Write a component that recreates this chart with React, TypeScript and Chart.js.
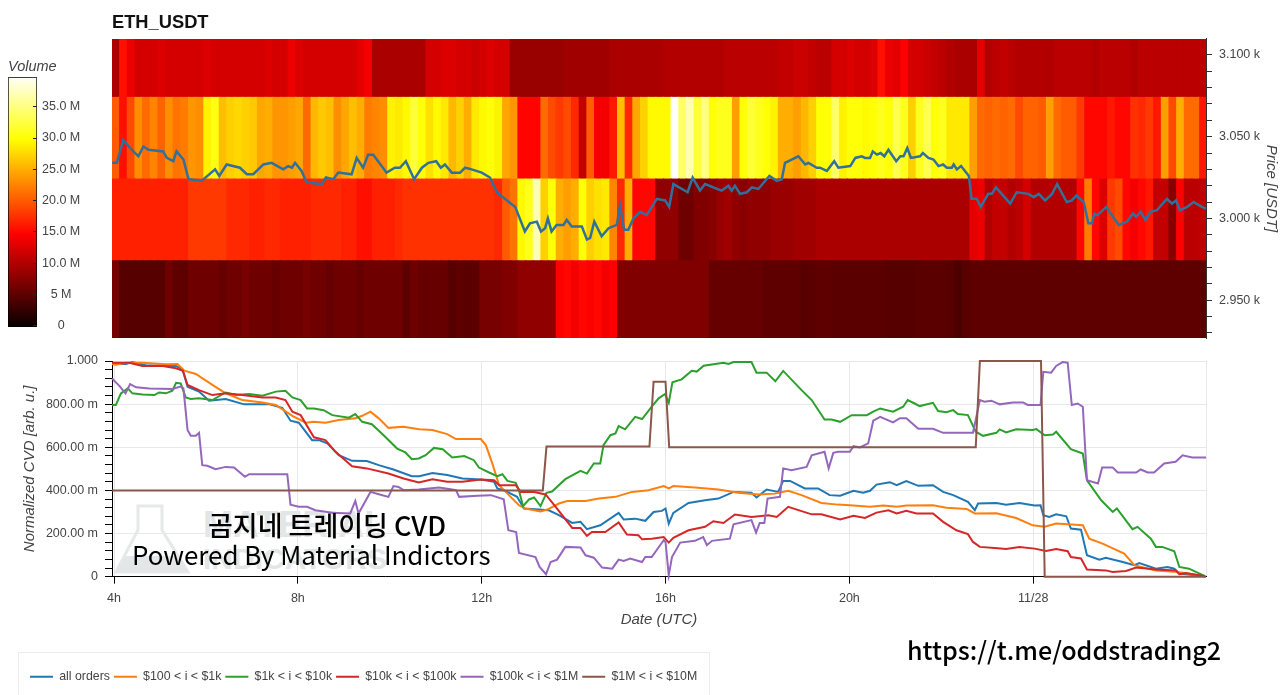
import { useEffect, useRef } from "react";
import Chart from "chart.js/auto";

// time axis is in hours since 11/27 00:00 UTC, 24 = 11/28
const xMin = 3.956;
const xMax = 27.76;
const timeTicks = [4, 8, 12, 16, 20, 24];
const timeTickLabels = ["4h", "8h", "12h", "16h", "20h", "11/28"];

const priceTicks = [2930, 2940, 2950, 2960, 2970, 2980, 2990, 3000, 3010, 3020, 3030, 3040, 3050, 3060, 3070, 3080, 3090, 3100];
const volumeTicks = [0, 5, 10, 15, 20, 25, 30, 35];
const cvdTicks = [0, 40, 80, 120, 160, 200, 240, 280, 320, 360, 400, 440, 480, 520, 560, 600, 640, 680, 720, 760, 800, 840, 880, 920, 960, 1000];

// volume heatmap: 10 minute bins, price rows from bottom to top
const firstBinHour = 4.04;
const binStep = 1 / 6;
const priceEdges = [2924, 2974, 3024, 3074, 3124];

const volumeRow4 = [
  9.5, 15.5, 13.5, 12, 12, 12, 12.5, 12, 12, 12,
  12, 12, 12.5, 12, 12, 12, 12, 12, 12, 12,
  12.5, 12, 12, 13.5, 12.5, 12, 12, 12, 12, 12,
  12, 12, 13, 14, 9.5, 9.5, 9.5, 9.5, 9.5, 9.5,
  9.5, 12, 12, 12.5, 12.5, 12, 12, 11.5, 12, 12.5,
  12, 12, 8.5, 8.5, 8.5, 8.5, 8.5, 8.5, 8.5, 9,
  9, 9, 9, 9, 9, 9.5, 9.5, 9.5, 9.5, 9.5,
  9.5, 9.5, 10, 10, 10, 10, 10, 10, 10, 10,
  10.5, 10.5, 10.5, 10.5, 10.5, 10.5, 10.5, 11, 11, 11.5,
  11.5, 11, 10.5, 10.5, 12, 12, 12.5, 12, 12, 12.5,
  15.5, 13.5, 13, 14.5, 12, 12, 11.5, 11, 10.5, 10,
  9.5, 9.5, 9.5, 13, 10, 10.5, 11, 10.5, 10, 10,
  10, 10, 10, 10.5, 10.5, 10.5, 10.5, 10.5, 10, 10.5,
  10.5, 10.5, 10.5, 10, 10.5, 10.5, 10.5, 10.5, 10.5, 10.5, 10.5, 10.5, 10.5,
];
const volumeRow3 = [
  20, 15.5, 19, 23, 21, 22.5, 20.5, 23, 21.5, 22,
  23.5, 23, 29, 30.5, 26, 27, 27.5, 27, 26.5, 24.5,
  25, 23.5, 23.5, 24, 24.5, 21, 25.5, 26.5, 26, 23,
  24.5, 26, 25, 22, 22.5, 23, 29, 28.5, 29.5, 32,
  30, 28, 29.5, 28.5, 25.5, 27, 25, 28.5, 29.5, 30,
  29, 24.5, 23.5, 14.8, 14.8, 14.8, 21, 19, 18, 19,
  17, 11, 20, 14, 14, 16, 26, 17, 24.5, 27,
  29.5, 29.5, 29.5, 40, 34, 37, 32, 35, 30, 31,
  31, 24, 30, 32, 31, 30, 29, 25, 25, 24,
  25.5, 27, 30, 30, 34, 29, 30, 30, 29.5, 30,
  31, 30, 33, 31, 27, 31, 33, 30, 31, 28.5,
  28.5, 28.5, 24, 21, 20.5, 21, 20.5, 21, 19, 20.5,
  20.5, 20, 24, 21, 20, 20, 18, 15, 15, 15,
  16, 15, 15, 17.5, 17, 18, 16, 24, 19, 25, 21, 21, 16,
];
const volumeRow2 = [
  16.5, 16.5, 16.5, 16.5, 16.5, 16.5, 16.5, 16.5, 16.5, 16.5,
  18, 18, 18, 18, 18, 17, 17, 17, 16.5, 16.5,
  17, 17, 16.5, 16.5, 16.5, 16.5, 17, 17, 17, 17,
  16.5, 16.5, 15.5, 15.5, 16.5, 16.5, 16.5, 17, 17.5, 17.5,
  17.5, 17.5, 17.5, 17.5, 17.5, 17.5, 17.5, 17.5, 17.5, 17.5,
  17, 20, 21.5, 29.5, 31, 37, 27, 30, 25, 24,
  25, 30, 27, 28, 28.5, 22.5, 17, 25, 15, 15,
  15, 8, 8, 8, 6, 6, 7, 7, 7.5, 8.5,
  9, 8, 7.5, 8, 8, 8, 8.5, 8.5, 8.5, 9,
  9, 9, 9.5, 9.5, 9.5, 9.5, 9.5, 9.5, 9.5, 9.5,
  9.5, 9.5, 9.5, 9.5, 9.5, 9.5, 9.5, 9.5, 9.5, 9.5,
  9.5, 9.5, 13, 13.5, 10, 11, 11, 10, 10.5, 12,
  10, 10, 10, 10, 10, 10, 15, 22, 15, 12.5,
  18, 19, 15, 14, 15, 16, 11, 11, 7.5, 14.5, 10.5, 10.5, 11,
];
const volumeRow1 = [
  6.5, 4.5, 4.5, 4.5, 4.5, 4.5, 4.5, 6, 5, 5,
  6, 6, 6, 6, 5.5, 6, 6, 6.5, 6, 6,
  6, 5.5, 6, 6, 6, 6.5, 6, 6, 5.5, 6,
  6, 6, 5.5, 6, 6, 6, 6, 6, 5, 6,
  5.5, 5.5, 5.5, 5.5, 4.5, 5, 4.8, 5, 6.5, 6.5,
  6.5, 7, 7, 8, 8, 8, 8, 8, 14.5, 15,
  14, 15, 14.5, 15, 14, 14.5, 7, 7, 7, 7,
  7, 7, 7, 7, 7, 7, 7, 7, 5.5, 5.5,
  5.5, 5.5, 5.5, 5.5, 5.5, 5, 5, 5, 5, 5,
  4.5, 4.8, 5, 5, 4.8, 4.8, 4.8, 4.8, 4.8, 4.8,
  4.8, 4.5, 4.5, 4.5, 4.5, 4.8, 4.8, 4.8, 4.8, 4.5,
  4, 4.5, 5, 5, 5, 5, 5, 5, 5, 5,
  5, 5, 5, 5, 5, 5, 5, 5, 5, 5,
  5, 5, 5, 5, 5, 5, 5, 5, 5, 5, 5, 5, 5,
];
const volumeRows = [volumeRow1, volumeRow2, volumeRow3, volumeRow4];

const priceHours = [
  3.96, 4.06, 4.2, 4.35, 4.53, 4.64, 4.75, 5.07, 5.15, 5.29, 5.36, 5.51, 5.62, 5.91, 6.2, 6.29, 6.45, 6.74, 6.89, 7.03,
  7.25, 7.43, 7.68, 7.79, 7.87, 7.94, 8.08, 8.19, 8.52, 8.61, 8.77, 8.88, 9.17, 9.28, 9.42, 9.53, 9.64, 9.93, 10.11, 10.22,
  10.35, 10.53, 10.7, 10.84, 11.01, 11.11, 11.2, 11.35, 11.53, 11.64, 11.78, 12, 12.18, 12.33, 12.55, 12.73, 12.94, 13.05, 13.2, 13.29,
  13.38, 13.44, 13.52, 13.63, 13.78, 13.85, 13.96, 14.18, 14.29, 14.36, 14.45, 14.61, 14.76, 14.94, 15.01, 15.1, 15.19, 15.3, 15.45, 15.59,
  15.81, 15.99, 16.08, 16.17, 16.48, 16.59, 16.75, 16.86, 17.22, 17.37, 17.44, 17.51, 17.62, 17.77, 17.88, 18.02, 18.26, 18.42, 18.53, 18.6,
  18.89, 19.04, 19.11, 19.29, 19.36, 19.51, 19.67, 19.76, 20.02, 20.13, 20.27, 20.34, 20.45, 20.51, 20.6, 20.68, 20.76, 20.85, 21.02, 21.11,
  21.18, 21.26, 21.34, 21.54, 21.6, 21.72, 21.83, 21.94, 22.04, 22.12, 22.23, 22.27, 22.34, 22.43, 22.6, 22.66, 22.77, 22.86, 23.02, 23.1,
  23.19, 23.5, 23.64, 23.9, 24.01, 24.12, 24.26, 24.41, 24.52, 24.73, 24.84, 24.94, 25.1, 25.2, 25.28, 25.33, 25.4, 25.59, 25.86, 26.04,
  26.17, 26.24, 26.34, 26.44, 26.55, 26.69, 26.91, 27.02, 27.11, 27.19, 27.35, 27.49, 27.67, 27.76,
];
const priceValues = [
  3034, 3034, 3048, 3043, 3038, 3044, 3042, 3041, 3037, 3035, 3041, 3036, 3024, 3023, 3030, 3026, 3033, 3031, 3027, 3027,
  3033, 3034, 3030, 3032, 3031, 3034, 3029, 3022, 3021, 3025, 3024, 3028, 3027, 3037, 3031, 3039, 3039, 3028, 3031, 3031,
  3035, 3024, 3031, 3034, 3035, 3031, 3033, 3028, 3028, 3031, 3030, 3028, 3025, 3016, 3011, 3007, 2992, 2997, 2998, 2992,
  2994, 3000, 2992, 2996, 2996, 2999, 2995, 2995, 2987, 2988, 2998, 2989, 2994, 2996, 3008, 2993, 2993, 3000, 3004, 3002,
  3012, 3011, 3007, 3021, 3016, 3025, 3017, 3021, 3017, 3020, 3017, 3020, 3015, 3016, 3019, 3018, 3026, 3023, 3024, 3034,
  3038, 3033, 3034, 3031, 3031, 3029, 3035, 3031, 3032, 3037, 3038, 3037, 3037, 3041, 3039, 3040, 3038, 3042, 3035, 3038,
  3038, 3043, 3037, 3038, 3040, 3037, 3036, 3032, 3033, 3031, 3031, 3033, 3030, 3032, 3026, 3012, 3012, 3007, 3015, 3015,
  3019, 3009, 3016, 3015, 3013, 3015, 3011, 3015, 3021, 3010, 3011, 3014, 3010, 2997, 2997, 3003, 3002, 3007, 2996, 2998,
  3003, 3001, 3004, 2999, 3004, 3005, 3012, 3009, 3011, 3005, 3007, 3010, 3007, 3006,
];

const allOrdersHours = [
  3.96, 4.26, 4.4, 4.69, 5.35, 5.49, 5.6, 5.85, 6.07, 6.43, 6.83, 7.37, 7.66, 7.84, 8.02, 8.31, 8.46, 8.64, 8.89, 9.18, 9.5, 9.76, 10.08, 10.48, 10.64,
  10.93, 11.25, 11.58, 11.98, 12.27, 12.34, 12.48, 12.77, 12.92, 13.24, 13.46, 13.68, 13.97, 14.15, 14.29, 14.58, 14.98, 15.09, 15.34, 15.56, 15.74, 15.92, 16, 16.07, 16.17,
  16.5, 16.86, 17.15, 17.48, 17.87, 17.98, 18.2, 18.45, 18.56, 18.71, 19.03, 19.32, 19.57, 19.8, 20.09, 20.3, 20.45, 20.59, 20.88, 21.03, 21.24, 21.5, 21.82, 22.04, 22.26,
  22.58, 22.73, 22.8, 23.2, 23.41, 23.7, 24.03, 24.16, 24.22, 24.35, 24.5, 24.72, 24.82, 25.04, 25.17, 25.44, 25.58, 25.95, 26.2, 26.31, 26.67, 26.92, 27.07, 27.18, 27.74,
];
const allOrdersValues = [
  986, 986, 995, 980, 977, 961, 881, 858, 816, 824, 799, 800, 783, 723, 714, 633, 633, 618, 563, 537, 536, 517, 497, 466, 466,
  481, 471, 455, 450, 440, 409, 401, 370, 316, 311, 308, 285, 249, 254, 220, 238, 296, 265, 269, 259, 300, 305, 316, 246, 296,
  342, 354, 362, 393, 389, 367, 404, 393, 444, 444, 409, 409, 378, 375, 398, 389, 398, 427, 438, 424, 443, 421, 424, 393, 378,
  347, 308, 339, 342, 334, 342, 330, 331, 285, 277, 289, 280, 223, 218, 99, 79, 88, 68, 53, 63, 37, 45, 37, 14, 2,
];

const smallHours = [
  3.96, 4.04, 4.26, 4.62, 5.13, 5.38, 5.53, 5.78, 6.14, 6.43, 6.79, 7.23, 7.52, 7.88, 8.17, 8.35, 8.6, 8.89, 9.25, 9.4, 9.58, 9.76, 9.97, 10.3, 10.64,
  10.93, 11.25, 11.44, 11.98, 12.09, 12.23, 12.38, 12.56, 12.81, 12.95, 13.28, 13.43, 13.68, 13.86, 14.26, 14.55, 14.91, 15.27, 15.63, 15.96, 16.07, 16.17, 16.64, 17.15, 17.58,
  18.02, 18.38, 18.67, 18.96, 19.39, 19.75, 20.01, 20.45, 20.74, 21.03, 21.24, 21.82, 22.11, 22.55, 22.73, 23.2, 23.63, 23.99, 24.25, 24.5, 25.08, 25.22, 25.51, 25.98, 26.2,
  26.67, 27.14, 27.46, 27.74,
];
const smallValues = [
  986, 983, 992, 992, 985, 986, 955, 940, 889, 850, 819, 808, 796, 746, 714, 718, 714, 726, 734, 746, 765, 734, 690, 695, 683,
  680, 661, 638, 638, 610, 525, 424, 385, 331, 316, 302, 311, 339, 351, 351, 362, 370, 393, 401, 420, 409, 420, 413, 404, 389,
  381, 385, 398, 378, 342, 334, 331, 324, 330, 324, 330, 331, 320, 314, 293, 294, 272, 238, 231, 246, 238, 176, 153, 107, 53,
  29, 22, 11, 2,
];

const midHours = [
  3.96, 4.04, 4.15, 4.3, 4.4, 4.62, 4.88, 4.98, 5.13, 5.27, 5.35, 5.45, 5.56, 5.67, 5.85, 6.14, 6.43, 6.65, 6.94, 7.23, 7.52, 7.73, 7.88, 8.06, 8.2,
  8.35, 8.56, 8.75, 9.11, 9.25, 9.4, 9.61, 9.9, 10.16, 10.34, 10.48, 10.63, 10.78, 10.96, 11.15, 11.36, 11.62, 11.83, 11.94, 12.16, 12.34, 12.45, 12.56, 12.74, 12.81,
  12.9, 13.03, 13.14, 13.28, 13.41, 13.53, 13.82, 14.15, 14.29, 14.44, 14.58, 14.65, 14.8, 14.91, 14.98, 15.12, 15.34, 15.49, 15.7, 15.85, 15.99, 16.07, 16.15, 16.35, 16.57,
  16.68, 16.83, 17.08, 17.26, 17.37, 17.48, 17.87, 17.98, 18.2, 18.39, 18.56, 18.96, 19.18, 19.46, 19.61, 19.8, 20.05, 20.38, 20.52, 20.67, 20.95, 21.17, 21.27, 21.42, 21.53,
  21.82, 21.93, 22.11, 22.26, 22.36, 22.58, 22.75, 22.91, 23.2, 23.27, 23.41, 23.63, 23.99, 24.07, 24.25, 24.43, 24.5, 24.82, 25.08, 25.17, 25.48, 25.73, 25.82, 26.16, 26.27,
  26.56, 26.67, 26.81, 27.07, 27.18, 27.39, 27.74,
];
const midValues = [
  796, 796, 850, 873, 850, 845, 842, 854, 850, 862, 899, 896, 831, 824, 827, 819, 854, 842, 847, 839, 858, 862, 831, 819, 780,
  780, 772, 749, 737, 754, 718, 707, 649, 594, 576, 545, 548, 563, 597, 591, 553, 559, 540, 506, 483, 466, 475, 444, 435, 401,
  327, 358, 367, 327, 389, 395, 452, 491, 478, 525, 525, 610, 656, 664, 698, 683, 741, 731, 788, 827, 847, 806, 901, 915, 955,
  951, 978, 986, 992, 986, 995, 995, 946, 946, 906, 954, 865, 819, 729, 729, 718, 749, 749, 765, 780, 765, 788, 819, 803, 791,
  806, 768, 762, 772, 754, 749, 672, 653, 667, 683, 669, 683, 680, 684, 656, 659, 672, 591, 571, 447, 354, 300, 316, 220, 231,
  176, 138, 138, 118, 45, 37, 2,
];

const largeHours = [
  3.96, 4.33, 4.62, 5.06, 5.35, 5.5, 5.6, 5.85, 6.14, 6.43, 6.79, 7.23, 7.52, 7.73, 7.88, 8.06, 8.35, 8.6, 8.82, 9.18, 9.5, 9.97, 10.3, 10.63,
  10.93, 11.25, 11.58, 11.98, 12.27, 12.38, 12.74, 12.85, 13.14, 13.39, 13.61, 13.97, 14.15, 14.29, 14.4, 14.69, 14.98, 15.16, 15.41, 15.49, 15.7, 15.96, 16.07, 16.17, 16.5, 16.86,
  17.04, 17.26, 17.51, 17.87, 18.24, 18.42, 18.67, 19.18, 19.39, 19.8, 20.09, 20.34, 20.59, 20.85, 21.03, 21.24, 21.46, 21.82, 22.04, 22.33, 22.58, 22.69, 22.84, 23.16, 23.41,
  23.7, 24.03, 24.28, 24.5, 24.75, 24.82, 25.04, 25.17, 25.58, 25.73, 26.02, 26.24, 26.67, 27.1, 27.18, 27.32, 27.74,
];
const largeValues = [
  992, 992, 977, 977, 966, 955, 889, 865, 842, 850, 842, 831, 831, 819, 765, 749, 646, 633, 579, 512, 502, 478, 455, 437,
  452, 440, 440, 450, 447, 424, 424, 393, 393, 381, 324, 226, 226, 189, 207, 207, 251, 195, 192, 173, 176, 184, 158, 180, 215, 231,
  257, 249, 288, 277, 285, 277, 324, 289, 289, 265, 282, 272, 297, 308, 293, 305, 293, 293, 254, 215, 197, 161, 138, 133, 128,
  138, 130, 119, 128, 118, 91, 84, 33, 29, 22, 26, 42, 33, 29, 11, 17, 2,
];

const whaleHours = [
  3.96, 4.04, 4.13, 4.25, 4.35, 4.48, 4.77, 5.27, 5.45, 5.51, 5.55, 5.6, 5.67, 5.78, 5.85, 5.92, 6.03, 6.21, 6.43, 6.61, 6.85, 6.94, 7.3, 7.77, 7.84,
  8.02, 8.2, 8.38, 8.75, 9.14, 9.25, 9.32, 9.58, 9.76, 9.97, 10.08, 10.19, 10.3, 10.63, 11.07, 11.29, 11.44, 11.51, 11.91, 12.2, 12.48, 12.58, 12.75, 12.81, 13.17,
  13.26, 13.4, 13.5, 13.64, 13.82, 14.15, 14.26, 14.44, 14.62, 14.84, 14.98, 15.09, 15.23, 15.49, 15.56, 15.7, 15.96, 16, 16.07, 16.14, 16.32, 16.64, 16.82, 16.9, 17.01,
  17.4, 17.48, 17.87, 17.97, 18.05, 18.15, 18.22, 18.49, 18.56, 18.74, 19.07, 19.18, 19.46, 19.55, 19.65, 19.75, 20.01, 20.09, 20.23, 20.41, 20.52, 20.67, 20.95, 21.1, 21.24,
  21.5, 21.82, 22.04, 22.69, 22.84, 22.94, 23.09, 23.27, 23.56, 23.78, 23.88, 24.16, 24.22, 24.39, 24.5, 24.64, 24.75, 24.84, 24.97, 25.08, 25.17, 25.41, 25.5, 25.73, 25.84,
  26.24, 26.34, 26.49, 26.63, 26.85, 27.1, 27.25, 27.46, 27.76,
];
const whaleValues = [
  919, 901, 881, 850, 893, 878, 873, 870, 881, 873, 788, 680, 653, 653, 667, 517, 514, 498, 509, 506, 463, 475, 475, 475, 334,
  324, 324, 308, 296, 293, 351, 293, 393, 382, 370, 420, 416, 401, 404, 413, 406, 401, 370, 375, 378, 359, 215, 207, 110, 91,
  45, 11, 68, 79, 138, 135, 99, 88, 42, 37, 79, 73, 84, 68, 91, 91, 169, 161, 6, 91, 158, 166, 184, 146, 166,
  176, 243, 262, 204, 249, 249, 362, 370, 502, 494, 509, 563, 579, 502, 574, 579, 579, 605, 599, 618, 723, 741, 715, 735, 735,
  686, 686, 667, 667, 819, 811, 816, 799, 808, 808, 796, 796, 950, 946, 977, 995, 992, 796, 803, 788, 447, 432, 506, 506, 483,
  483, 497, 483, 483, 525, 533, 563, 553, 553,
];

const hugeHours = [3.96, 13.33, 13.41, 15.65, 15.74, 16, 16.08, 22.75, 22.84, 24.17, 24.25, 27.76];
const hugeValues = [400, 400, 603, 603, 904, 904, 600, 600, 1000, 1000, 0, 0];

const cvdLabels = ["all orders", "$100 < i < $1k", "$1k < i < $10k", "$10k < i < $100k", "$100k < i < $1M", "$1M < i < $10M"];
const cvdColors = ["#1f77b4", "#ff7f0e", "#2ca02c", "#d62728", "#9467bd", "#8c564b"];
const cvdHours = [allOrdersHours, smallHours, midHours, largeHours, whaleHours, hugeHours];
const cvdValues = [allOrdersValues, smallValues, midValues, largeValues, whaleValues, hugeValues];

const FONT = "'Liberation Sans', Arial, sans-serif";
const TEXT = "#444";

const zip = (xs: number[], ys: number[]) => xs.map((x, i) => ({ x, y: ys[i] }));
const clamp01 = (v: number) => Math.max(0, Math.min(1, v));

// "hot" colormap over 0..40 M
function volumeColor(v: number) {
  const r = Math.round(255 * clamp01(0.04 + v / 15.2));
  const g = Math.round(255 * clamp01((v - 14.6) / 15.2));
  const b = Math.round(255 * clamp01((v - 29.8) / 10.2));
  return `rgb(${r},${g},${b})`;
}

// fixed axis size, and no extra room for labels that hang over the plot edge
const fixWidth = (width: number) => (s: any) => {
  s.width = width;
  s.paddingTop = 0;
  s.paddingBottom = 0;
};

export default function App() {
  const barRef = useRef<HTMLCanvasElement>(null);
  const heatRef = useRef<HTMLCanvasElement>(null);
  const cvdRef = useRef<HTMLCanvasElement>(null);

  useEffect(() => {
    const charts: Chart[] = [];

    // colorbar
    charts.push(
      new Chart(barRef.current!, {
        type: "bar",
        data: {
          labels: ["Volume"],
          datasets: [
            {
              data: [[-0.2, 39.7]],
              barPercentage: 1,
              categoryPercentage: 1,
              borderWidth: 1,
              borderColor: "#000",
              borderSkipped: false,
              backgroundColor: (c: any) => {
                const y = c.chart.scales.y;
                const y0 = y ? y.getPixelForValue(0) : NaN;
                const y1 = y ? y.getPixelForValue(40) : NaN;
                if (!Number.isFinite(y0) || !Number.isFinite(y1)) return "#000";
                const g = c.chart.ctx.createLinearGradient(0, y0, 0, y1);
                g.addColorStop(0, "#0a0000");
                g.addColorStop(0.365, "#ff0000");
                g.addColorStop(0.746, "#ffff00");
                g.addColorStop(1, "#ffffff");
                return g;
              },
            } as any,
          ],
        },
        options: {
          responsive: false,
          animation: false,
          layout: { padding: { left: 8, bottom: 8 } },
          plugins: {
            legend: { display: false },
            tooltip: { enabled: false },
            title: {
              display: true,
              text: "Volume",
              align: "start",
              color: TEXT,
              padding: { top: 0, bottom: 1.9 },
              font: { family: FONT, size: 14.5, style: "italic", weight: "normal" },
            },
          },
          scales: {
            x: { display: false },
            y: {
              position: "right",
              min: -0.2,
              max: 39.7,
              afterBuildTicks: (s: any) => {
                s.ticks = volumeTicks.map((value) => ({ value }));
              },
              afterFit: fixWidth(73),
              border: { display: false },
              grid: { drawOnChartArea: false, tickLength: -4, tickColor: "#222", z: 1 },
              ticks: {
                padding: 9,
                crossAlign: "center",
                color: TEXT,
                autoSkip: false,
                font: { family: FONT, size: 12.5 },
                callback: (v: any) => (v === 0 ? "0" : v === 5 ? "5 M" : `${Number(v).toFixed(1)} M`),
              },
            },
          },
        },
      })
    );

    // price + volume heatmap
    const binHours = volumeRow1.map((_, i) => firstBinHour + i * binStep);
    charts.push(
      new Chart(heatRef.current!, {
        type: "bar",
        data: {
          datasets: [
            {
              type: "line",
              label: "Price",
              data: zip(priceHours, priceValues),
              borderColor: "#31709a",
              borderWidth: 2.5,
              pointRadius: 0,
              tension: 0,
              order: 0,
            } as any,
            ...volumeRows.map((row, r) => ({
              label: `row ${r}`,
              data: row.map((_, i) => ({ x: binHours[i], y: [priceEdges[r], priceEdges[r + 1]] })),
              backgroundColor: row.map(volumeColor),
              barPercentage: 1,
              categoryPercentage: 1,
              grouped: false,
              borderWidth: 0,
              inflateAmount: 0.6,
              order: 1,
            })),
          ],
        },
        options: {
          responsive: false,
          animation: false,
          layout: { padding: { bottom: 8 } },
          plugins: {
            legend: { display: false },
            tooltip: { enabled: false },
            title: {
              display: true,
              text: "ETH_USDT",
              align: "start",
              color: "#111",
              padding: { top: 0, bottom: 5 },
              font: { family: FONT, size: 18.3, weight: "bold" },
            },
          },
          scales: {
            x: { type: "linear", display: false, offset: false, min: xMin, max: xMax },
            y: {
              type: "linear",
              position: "right",
              min: 2926.8,
              max: 3109.8,
              afterBuildTicks: (s: any) => {
                s.ticks = priceTicks.map((value) => ({ value }));
              },
              afterFit: fixWidth(74),
              border: { color: "#333" },
              grid: { drawOnChartArea: false, tickLength: 6, tickColor: "#333" },
              ticks: {
                padding: 7,
                color: TEXT,
                autoSkip: false,
                font: { family: FONT, size: 12.5 },
                callback: (v: any) => (Number(v) % 50 === 0 ? `${(Number(v) / 1000).toFixed(3)} k` : ""),
              },
              title: {
                display: true,
                text: "Price [USDT]",
                color: TEXT,
                padding: { top: 0, bottom: -7 },
                font: { family: FONT, size: 15, style: "italic" },
              },
            },
          },
        },
      })
    );

    // normalized CVD
    charts.push(
      new Chart(cvdRef.current!, {
        type: "line",
        data: {
          datasets: cvdLabels.map((label, i) => ({
            label,
            data: zip(cvdHours[i], cvdValues[i]),
            borderColor: cvdColors[i],
            backgroundColor: cvdColors[i],
            borderWidth: 2,
            pointRadius: 0,
            tension: 0,
            clip: 4,
            order: cvdLabels.length - i,
          })),
        },
        options: {
          responsive: false,
          animation: false,
          layout: { padding: { left: 26, right: 74, top: 8, bottom: 2 } },
          plugins: {
            tooltip: { enabled: false },
            legend: {
              position: "bottom",
              align: "start",
              labels: {
                usePointStyle: true,
                pointStyle: "line",
                pointStyleWidth: 23,
                padding: 4,
                color: TEXT,
                font: { family: FONT, size: 12.35 },
                sort: (a: any, b: any) => a.datasetIndex - b.datasetIndex,
              },
            },
          },
          scales: {
            x: {
              type: "linear",
              min: xMin,
              max: xMax,
              afterBuildTicks: (s: any) => {
                s.ticks = [...timeTicks, xMax].map((value) => ({ value }));
              },
              afterFit: (s: any) => {
                s.height = 90;
                s.paddingLeft = 0;
                s.paddingRight = 0;
              },
              border: { color: "#000", width: 1 },
              grid: {
                color: "#e8e8e8",
                tickLength: 7,
                tickColor: (c: any) => (c.tick && c.tick.value === xMax ? "rgba(0,0,0,0)" : "#000"),
              },
              ticks: {
                padding: 7,
                color: TEXT,
                autoSkip: false,
                maxRotation: 0,
                font: { family: FONT, size: 12.5 },
                callback: (v: any) => {
                  const at = timeTicks.indexOf(Number(v));
                  return at >= 0 ? timeTickLabels[at] : "";
                },
              },
              title: {
                display: true,
                text: "Date (UTC)",
                color: TEXT,
                padding: { top: 0, bottom: 38 },
                font: { family: FONT, size: 15, style: "italic" },
              },
            },
            y: {
              min: 0,
              max: 1000,
              afterBuildTicks: (s: any) => {
                s.ticks = cvdTicks.map((value) => ({ value }));
              },
              afterFit: fixWidth(86),
              border: { color: "#000", width: 1 },
              grid: {
                tickLength: 7,
                tickColor: "#000",
                color: (c: any) => (c.tick && c.tick.value % 200 === 0 ? "#e8e8e8" : "rgba(0,0,0,0)"),
              },
              ticks: {
                padding: 7,
                color: TEXT,
                autoSkip: false,
                font: { family: FONT, size: 12.5 },
                callback: (v: any) => {
                  const n = Number(v);
                  if (n === 0) return "0";
                  if (n === 1000) return "1.000";
                  return n % 200 === 0 ? `${n.toFixed(2)} m` : "";
                },
              },
              title: {
                display: true,
                text: "Normalized CVD [arb. u.]",
                color: TEXT,
                padding: { top: -5.5, bottom: 0 },
                font: { family: FONT, size: 15, style: "italic" },
              },
            },
          },
        },
      })
    );

    return () => charts.forEach((c) => c.destroy());
  }, []);

  const caption: React.CSSProperties = {
    position: "absolute",
    fontFamily: "'Noto Sans CJK KR', 'Noto Sans', sans-serif",
    fontWeight: 500,
    color: "#000",
    whiteSpace: "nowrap",
    lineHeight: 1,
    zIndex: 3,
  };
  const mark: React.CSSProperties = {
    position: "absolute",
    fontFamily: FONT,
    fontWeight: 700,
    color: "#e3e6e6",
    whiteSpace: "nowrap",
    lineHeight: 1,
  };

  return (
    <div style={{ position: "fixed", left: 0, top: 0, width: 1280, height: 695, overflow: "hidden", background: "#fff" }}>
      {/* watermark sits under the transparent canvas */}
      <svg width={90} height={80} style={{ position: "absolute", left: 110, top: 500 }}>
        <path d="M28 6 H52 V30 L78 72 H6 L28 30 Z" fill="none" stroke="#e6e9e9" strokeWidth={3} />
        <path d="M16 56 H68 L78 72 H6 Z" fill="#e3e7e7" />
      </svg>
      <div style={{ ...mark, left: 203, top: 507, fontSize: 36 }}>MATERIAL</div>
      <div style={{ ...mark, left: 203, top: 544, fontSize: 30 }}>INDICATORS</div>

      <div style={{ position: "absolute", left: 18, top: 652, width: 690, height: 60, border: "1px solid #ececec" }} />

      <canvas ref={barRef} width={110} height={277} style={{ position: "absolute", left: 0, top: 58 }} />
      <canvas ref={heatRef} width={1168} height={334} style={{ position: "absolute", left: 112, top: 12 }} />
      <canvas ref={cvdRef} width={1280} height={342} style={{ position: "absolute", left: 0, top: 353 }} />

      <div style={{ ...caption, left: 208, top: 511, fontSize: 27 }}>곰지네 트레이딩 CVD</div>
      <div style={{ ...caption, left: 132, top: 541, fontSize: 25.9, fontWeight: 400 }}>Powered By Material Indictors</div>
      <div style={{ ...caption, left: 907, top: 637, fontSize: 25.1 }}>https://t.me/oddstrading2</div>
    </div>
  );
}
